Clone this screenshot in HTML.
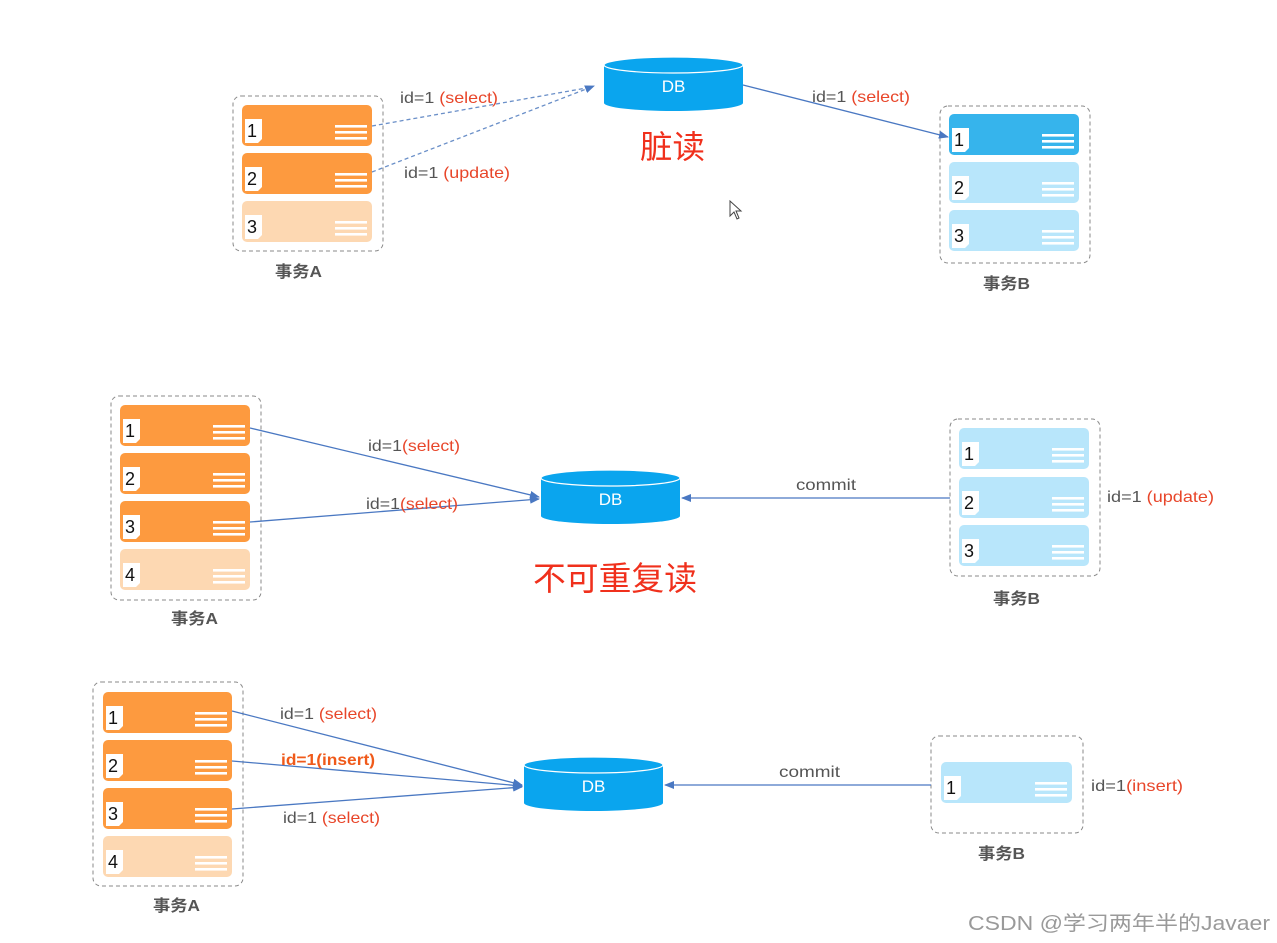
<!DOCTYPE html>
<html><head><meta charset="utf-8"><style>
html,body{margin:0;padding:0;background:#fff;}
svg{display:block;}
text{font-family:"Liberation Sans","Noto Sans CJK SC",sans-serif;}
</style></head><body>
<svg id="s" width="1277" height="943" xmlns="http://www.w3.org/2000/svg">
<defs>
<marker id="ar" markerWidth="10" markerHeight="10" refX="9" refY="5" orient="auto" markerUnits="userSpaceOnUse"><path d="M0,1 L10,5 L0,9 z" fill="#4a78c2"/></marker>
</defs>
<g id="g"></g>
<!-- Section 1 -->
<rect x="233" y="96" width="150" height="155" rx="8" fill="none" stroke="#8a8a8a" stroke-dasharray="4,3"/>
<rect x="940" y="106" width="150" height="157" rx="8" fill="none" stroke="#8a8a8a" stroke-dasharray="4,3"/>
<text x="275" y="277" font-size="16" fill="#555" font-weight="bold" textLength="47" lengthAdjust="spacingAndGlyphs">事务A</text>
<text x="983" y="289" font-size="16" fill="#555" font-weight="bold" textLength="47" lengthAdjust="spacingAndGlyphs">事务B</text>
<line x1="372" y1="126" x2="592" y2="87" stroke="#6a8fc8" stroke-width="1.3" stroke-dasharray="4,3"/>
<line x1="372" y1="172" x2="594" y2="86" stroke="#6a8fc8" stroke-width="1.3" stroke-dasharray="4,3" marker-end="url(#ar)"/>
<text x="400" y="103" font-size="16" fill="#555" textLength="98" lengthAdjust="spacingAndGlyphs">id=1 <tspan fill="#e8462a">(select)</tspan></text>
<text x="404" y="178" font-size="16" fill="#555" textLength="106" lengthAdjust="spacingAndGlyphs">id=1 <tspan fill="#e8462a">(update)</tspan></text>
<line x1="743" y1="85" x2="948" y2="137" stroke="#4a78c2" stroke-width="1.3" marker-end="url(#ar)"/>
<text x="812" y="102" font-size="16" fill="#555" textLength="98" lengthAdjust="spacingAndGlyphs">id=1 <tspan fill="#e8462a">(select)</tspan></text>
<text x="640" y="158" font-size="32" fill="#f0301c" textLength="65" lengthAdjust="spacingAndGlyphs">脏读</text>
<path d="M730,201 L730,216 L734,212 L737,219 L739,218 L736,211 L741,211 Z" fill="#fff" stroke="#444" stroke-width="1"/>
<!-- Section 2 -->
<rect x="111" y="396" width="150" height="204" rx="8" fill="none" stroke="#8a8a8a" stroke-dasharray="4,3"/>
<rect x="950" y="419" width="150" height="157" rx="8" fill="none" stroke="#8a8a8a" stroke-dasharray="4,3"/>
<text x="171" y="624" font-size="16" fill="#555" font-weight="bold" textLength="47" lengthAdjust="spacingAndGlyphs">事务A</text>
<text x="993" y="604" font-size="16" fill="#555" font-weight="bold" textLength="47" lengthAdjust="spacingAndGlyphs">事务B</text>
<line x1="250" y1="428" x2="539" y2="497" stroke="#4a78c2" stroke-width="1.3" marker-end="url(#ar)"/>
<line x1="250" y1="522" x2="539" y2="499" stroke="#4a78c2" stroke-width="1.3" marker-end="url(#ar)"/>
<text x="368" y="451" font-size="16" fill="#555" textLength="92" lengthAdjust="spacingAndGlyphs">id=1<tspan fill="#e8462a">(select)</tspan></text>
<text x="366" y="509" font-size="16" fill="#555" textLength="92" lengthAdjust="spacingAndGlyphs">id=1<tspan fill="#e8462a">(select)</tspan></text>
<line x1="950" y1="498" x2="682" y2="498" stroke="#4a78c2" stroke-width="1.3" marker-end="url(#ar)"/>
<text x="796" y="490" font-size="16" fill="#555" textLength="60" lengthAdjust="spacingAndGlyphs">commit</text>
<text x="1107" y="502" font-size="16" fill="#555" textLength="107" lengthAdjust="spacingAndGlyphs">id=1 <tspan fill="#e8462a">(update)</tspan></text>
<text x="533" y="590" font-size="33" fill="#f0301c" textLength="164" lengthAdjust="spacingAndGlyphs">不可重复读</text>
<!-- Section 3 -->
<rect x="93" y="682" width="150" height="204" rx="8" fill="none" stroke="#8a8a8a" stroke-dasharray="4,3"/>
<rect x="931" y="736" width="152" height="97" rx="8" fill="none" stroke="#8a8a8a" stroke-dasharray="4,3"/>
<text x="153" y="911" font-size="16" fill="#555" font-weight="bold" textLength="47" lengthAdjust="spacingAndGlyphs">事务A</text>
<text x="978" y="859" font-size="16" fill="#555" font-weight="bold" textLength="47" lengthAdjust="spacingAndGlyphs">事务B</text>
<line x1="232" y1="711" x2="522" y2="785" stroke="#4a78c2" stroke-width="1.3" marker-end="url(#ar)"/>
<line x1="232" y1="761" x2="522" y2="786" stroke="#4a78c2" stroke-width="1.3" marker-end="url(#ar)"/>
<line x1="232" y1="809" x2="522" y2="787" stroke="#4a78c2" stroke-width="1.3" marker-end="url(#ar)"/>
<text x="280" y="719" font-size="16" fill="#555" textLength="97" lengthAdjust="spacingAndGlyphs">id=1 <tspan fill="#e8462a">(select)</tspan></text>
<text x="281" y="765" font-size="16" fill="#f05a1a" font-weight="bold" textLength="94" lengthAdjust="spacingAndGlyphs">id=1(insert)</text>
<text x="283" y="823" font-size="16" fill="#555" textLength="97" lengthAdjust="spacingAndGlyphs">id=1 <tspan fill="#e8462a">(select)</tspan></text>
<line x1="931" y1="785" x2="665" y2="785" stroke="#4a78c2" stroke-width="1.3" marker-end="url(#ar)"/>
<text x="779" y="777" font-size="16" fill="#555" textLength="61" lengthAdjust="spacingAndGlyphs">commit</text>
<text x="1091" y="791" font-size="16" fill="#555" textLength="92" lengthAdjust="spacingAndGlyphs">id=1<tspan fill="#e8462a">(insert)</tspan></text>
<text x="968" y="930" font-size="20" fill="#9a9a9a" textLength="302" lengthAdjust="spacingAndGlyphs">CSDN @学习两年半的Javaer</text>
</svg>
<script>
var g=document.getElementById('g');var h='';
function card(x,y,w,c,n){
 h+='<rect x="'+x+'" y="'+y+'" width="'+w+'" height="41" rx="5" fill="'+c+'"/>';
 h+='<path d="M'+(x+3)+','+(y+14)+' h17 v20 l-4,4 h-13 z" fill="#fff"/>';
 h+='<text x="'+(x+5)+'" y="'+(y+32)+'" font-size="18" fill="#111">'+n+'</text>';
 for(var i=0;i<3;i++){h+='<rect x="'+(x+w-37)+'" y="'+(y+20+i*6)+'" width="32" height="2.6" fill="#fff"/>';}
}
function db(x,y,w,hh){
 var rx=w/2,ry=8,cx=x+rx;
 h+='<path d="M'+x+','+(y+ry)+' v'+(hh-2*ry)+' a'+rx+','+ry+' 0 0 0 '+w+',0 v-'+(hh-2*ry)+' z" fill="#0aa5ee"/>';
 h+='<ellipse cx="'+cx+'" cy="'+(y+ry)+'" rx="'+rx+'" ry="'+ry+'" fill="#0aa5ee" stroke="#fff" stroke-width="1.2"/>';
 h+='<text x="'+cx+'" y="'+(y+hh/2+8)+'" font-size="17" fill="#fff" text-anchor="middle">DB</text>';
}
var O='#fd9a3f',OL='#fdd8b2',B='#36b4ec',BL='#b8e6fb';
card(242,105,130,O,1);card(242,153,130,O,2);card(242,201,130,OL,3);
card(949,114,130,B,1);card(949,162,130,BL,2);card(949,210,130,BL,3);
card(120,405,130,O,1);card(120,453,130,O,2);card(120,501,130,O,3);card(120,549,130,OL,4);
card(959,428,130,BL,1);card(959,477,130,BL,2);card(959,525,130,BL,3);
card(103,692,129,O,1);card(103,740,129,O,2);card(103,788,129,O,3);card(103,836,129,OL,4);
card(941,762,131,BL,1);
db(604,57,139,54);db(541,470,139,54);db(524,757,139,54);
g.innerHTML=h;
</script>
</body></html>
